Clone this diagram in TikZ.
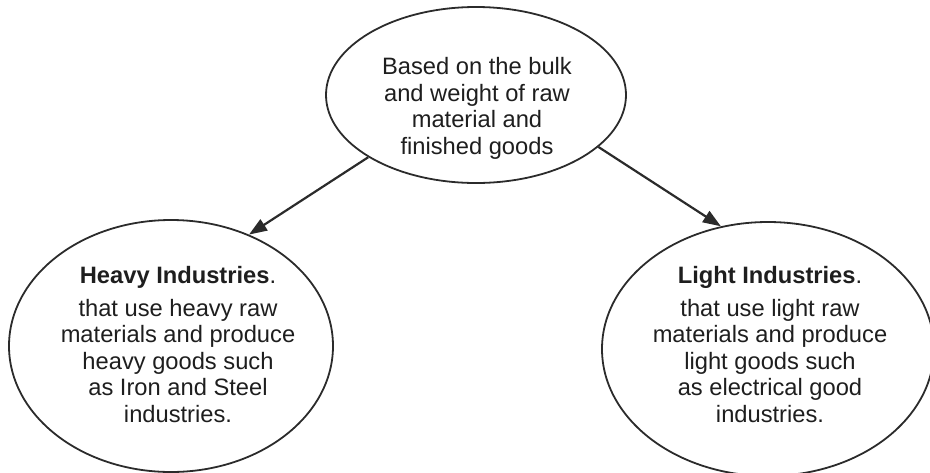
\documentclass[tikz,border=0pt]{standalone}
\usepackage{fontspec}
\setmainfont{Liberation Sans}
\usetikzlibrary{shapes.geometric,arrows.meta}
\definecolor{ink}{HTML}{2B2B2B}
\definecolor{txtc}{HTML}{1E1E1E}
\begin{document}
\begin{tikzpicture}[x=1pt,y=-1pt,
  bubble/.style={draw=ink, line width=1.8pt, ellipse, inner sep=0pt},
  txt/.style={align=center, inner sep=0pt, anchor=north, text=txtc,
    font=\fontsize{23.7}{26.4}\selectfont},
  conn/.style={draw=ink, line width=2.2pt, -{Triangle[length=18pt,width=13pt]}}]
\useasboundingbox (0,0) rectangle (930,472);
\node[bubble, minimum width=300pt, minimum height=176pt] (top) at (476,95) {};
\node[bubble, minimum width=324pt, minimum height=252pt] (left) at (171,346) {};
\node[bubble, minimum width=332pt, minimum height=254pt] (right) at (768,349) {};
\node[txt] (toptxt) at (477,57.5) {Based on the bulk\\and weight of raw\\material and\\finished goods};
\node[txt] (lefttxt) at (178,266.5) {\textbf{Heavy Industries}.\\[6.3pt]that use heavy raw\\materials and produce\\heavy goods such\\as Iron and Steel\\industries.};
\node[txt] (righttxt) at (770,266.5) {\textbf{Light Industries}.\\[6.3pt]that use light raw\\materials and produce\\light goods such\\as electrical good\\industries.};
\draw[conn] (top.210) -- (left.55);
\draw[conn] (top.337) -- (right.111);
\end{tikzpicture}
\end{document}
